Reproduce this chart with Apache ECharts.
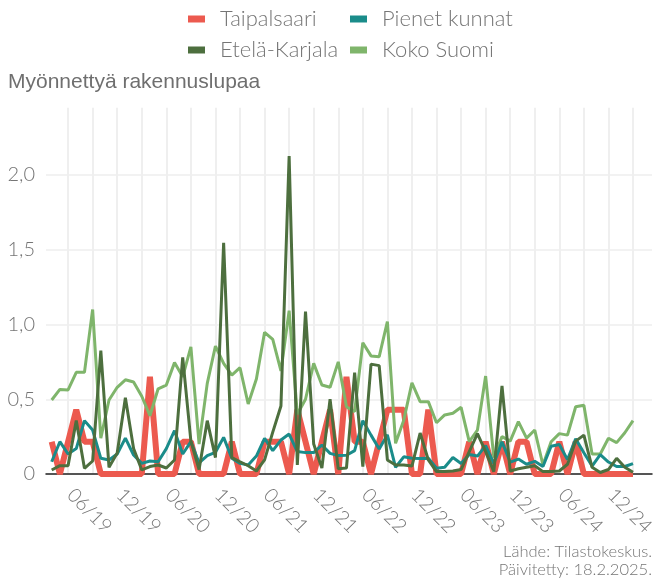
<!DOCTYPE html>
<html>
<head>
<meta charset="utf-8">
<script src="https://cdn.jsdelivr.net/npm/echarts@6/dist/echarts.min.js"></script>
<style>
  html, body { margin: 0; padding: 0; background: #fff; }
  #chart { width: 658px; height: 578px; }
</style>
</head>
<body>
<div id="chart"></div>
<script>
// kuukaudet 01/2019 - 12/2024
const vuodet = ['19', '20', '21', '22', '23', '24']
const kuukaudet = ['01', '02', '03', '04', '05', '06', '07', '08', '09', '10', '11', '12']
const kk = []
vuodet.forEach(v => kuukaudet.forEach(m => kk.push(m + '/' + v)))

const taipalsaari = [
  0.216, 0, 0.216, 0.43, 0.216, 0.216, 0, 0, 0, 0, 0, 0,
  0.65, 0, 0, 0, 0.216, 0.216, 0, 0, 0, 0, 0.216, 0,
  0, 0, 0.216, 0.216, 0.216, 0, 0.43, 0.216, 0, 0.216, 0.43, 0,
  0.65, 0.216, 0.216, 0, 0.216, 0.43, 0.43, 0.43, 0, 0, 0.43, 0,
  0, 0, 0, 0.216, 0, 0.216, 0, 0.216, 0, 0.216, 0.216, 0,
  0, 0, 0.216, 0, 0.216, 0, 0, 0, 0, 0, 0, 0
]
const pienetKunnat = [
  0.082, 0.216, 0.134, 0.17, 0.357, 0.294, 0.105, 0.094, 0.134, 0.24, 0.127, 0.071,
  0.087, 0.082, 0.17, 0.29, 0.134, 0.216, 0.075, 0.123, 0.145, 0.245, 0.105, 0.071,
  0.06, 0.12, 0.238, 0.156, 0.227, 0.267, 0.15, 0.143, 0.143, 0.194, 0.138, 0.123,
  0.125, 0.156, 0.357, 0.26, 0.167, 0.262, 0.045, 0.115, 0.105, 0.103, 0.105, 0.038,
  0.045, 0.11, 0.07, 0.13, 0.12, 0.19, 0.07, 0.215, 0.08, 0.1, 0.065, 0.085,
  0.05, 0.186, 0.197, 0.096, 0.235, 0.142, 0.053, 0.13, 0.08, 0.05, 0.05, 0.07
]
const etelaKarjala = [
  0.027, 0.056, 0.056, 0.357, 0.038, 0.087, 0.825, 0.045, 0.14, 0.51, 0.17, 0.027,
  0.05, 0.06, 0.04, 0.094, 0.78, 0.22, 0.03, 0.357, 0.11, 1.547, 0.11, 0.082,
  0.055, 0.02, 0.094, 0.28, 0.455, 2.127, 0.06, 1.086, 0.2, 0.04, 0.5, 0.035,
  0.04, 0.678, 0.05, 0.735, 0.725, 0.094, 0.06, 0.06, 0.053, 0.274, 0.094, 0.016,
  0.016, 0.02, 0.03, 0.15, 0.27, 0.15, 0.016, 0.589, 0.02, 0.035, 0.045, 0.055,
  0.016, 0.016, 0.02, 0.065, 0.22, 0.26, 0.045, 0.01, 0.03, 0.105, 0.045, 0.012
]
const kokoSuomi = [
  0.495, 0.566, 0.562, 0.68, 0.68, 1.1, 0.24, 0.495, 0.58, 0.63, 0.615, 0.52,
  0.39, 0.57, 0.595, 0.745, 0.65, 0.85, 0.2, 0.606, 0.856, 0.74, 0.662, 0.711,
  0.468, 0.635, 0.948, 0.9, 0.689, 1.093, 0.4, 0.5, 0.74, 0.595, 0.58, 0.75,
  0.45, 0.417, 0.878, 0.79, 0.785, 1.02, 0.205, 0.36, 0.61, 0.484, 0.484, 0.343,
  0.395, 0.406, 0.446, 0.216, 0.294, 0.655, 0.11, 0.25, 0.22, 0.35, 0.24, 0.294,
  0.06, 0.216, 0.27, 0.26, 0.45, 0.46, 0.134, 0.134, 0.239, 0.21, 0.276, 0.357
]

const harmaa = '#757575'
const fontti = 'Lato, "Open Sans", sans-serif'
const yMax = 2.45

const chart = echarts.init(document.getElementById('chart'))

const legendTyyli = {
  orient: 'vertical',
  top: 8,
  padding: 0,
  itemWidth: 17,
  itemHeight: 7,
  itemGap: 9,
  icon: 'rect',
  textStyle: { color: harmaa, fontFamily: fontti, fontWeight: 300, fontSize: 22, lineHeight: 22, padding: [0, 0, 0, 10] }
}

chart.setOption({
  animation: false,
  legend: [
    Object.assign({ left: 188, data: ['Taipalsaari', 'Etelä-Karjala'] }, legendTyyli),
    Object.assign({ left: 350, data: ['Pienet kunnat', 'Koko Suomi'] }, legendTyyli)
  ],
  grid: [
    { left: 46, right: 6, top: 474 - yMax * 149.5, bottom: 104 },
    { left: 51.7, right: 17.2, top: 474 - yMax * 149.5, bottom: 104 }
  ],
  xAxis: [
    {
      type: 'value', gridIndex: 0, min: 0, max: 1,
      axisLine: { show: true, lineStyle: { color: '#222', width: 1.5 } },
      axisTick: { show: false }, axisLabel: { show: false }, splitLine: { show: false }
    },
    {
      type: 'category', gridIndex: 1, data: kk, boundaryGap: false,
      axisLine: { show: false }, axisTick: { show: false },
      splitLine: { show: true, interval: (i) => i % 3 === 2, lineStyle: { color: '#efefef', width: 2 } },
      axisLabel: {
        interval: (i) => i % 6 === 5,
        rotate: -45, align: 'center', verticalAlign: 'middle', margin: 40,
        padding: [7, 9, 0, 0],
        color: harmaa, fontFamily: fontti, fontWeight: 300, fontSize: 19.5
      }
    }
  ],
  yAxis: [
    {
      type: 'value', gridIndex: 0, min: 0, max: yMax, interval: 0.5,
      axisLine: { show: false }, axisTick: { show: false },
      splitLine: { show: true, showMaxLine: false, lineStyle: { color: '#f2f2f2', width: 2 } },
      axisLabel: {
        showMaxLabel: false, margin: 11,
        color: harmaa, fontFamily: fontti, fontWeight: 300, fontSize: 20,
        formatter: (v) => v === 0 ? '0' : (Math.abs(v * 2 - Math.round(v * 2)) < 1e-6 ? v.toFixed(1).replace('.', ',') : '')
      }
    },
    { type: 'value', gridIndex: 1, min: 0, max: yMax, show: false }
  ],
  graphic: [
    {
      type: 'text', left: 8, top: 72,
      style: { text: 'Myönnettyä rakennuslupaa', fill: '#6f6f6f', font: '21px "Liberation Sans", Arial, sans-serif' }
    },
    {
      type: 'text', right: 6, top: 543,
      style: { text: 'Lähde: Tilastokeskus.', fill: harmaa, font: '300 16.5px Lato, sans-serif' }
    },
    {
      type: 'text', right: 6, top: 561,
      style: { text: 'Päivitetty: 18.2.2025.', fill: harmaa, font: '300 16.5px Lato, sans-serif' }
    }
  ],
  series: [
    { name: 'Taipalsaari', type: 'line', xAxisIndex: 1, yAxisIndex: 1, data: taipalsaari, showSymbol: false,
      color: '#EC5A4F', lineStyle: { width: 6 }, z: 2 },
    { name: 'Koko Suomi', type: 'line', xAxisIndex: 1, yAxisIndex: 1, data: kokoSuomi, showSymbol: false,
      color: '#7FB56B', lineStyle: { width: 3 }, z: 3 },
    { name: 'Pienet kunnat', type: 'line', xAxisIndex: 1, yAxisIndex: 1, data: pienetKunnat, showSymbol: false,
      color: '#1A8C8A', lineStyle: { width: 3 }, z: 4 },
    { name: 'Etelä-Karjala', type: 'line', xAxisIndex: 1, yAxisIndex: 1, data: etelaKarjala, showSymbol: false,
      color: '#4D6F3E', lineStyle: { width: 3 }, z: 5 }
  ]
})
</script>
</body>
</html>
